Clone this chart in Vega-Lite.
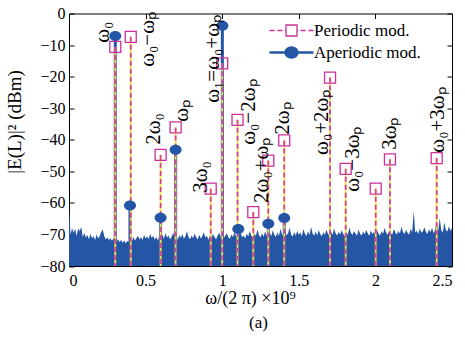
{
"$schema":"https://vega.github.io/schema/vega-lite/v6.json",
"width":383,"height":252.5,
"autosize":{"type":"none"},
"padding":{"left":69,"top":13.5,"right":13,"bottom":70.5},
"background":"white",
"title":{"text":"(a)","orient":"bottom","anchor":"middle","font":"Liberation Serif","fontSize":17,"fontWeight":"normal","color":"black","offset":8,"dx":-2},
"datasets":{
"noise":[
{"f":0,"p":-61.5},{"f":0.01,"p":-70},{"f":0.02,"p":-68},{"f":0.03,"p":-69.5},{"f":0.04,"p":-68.2},{"f":0.05,"p":-70.5},{"f":0.06,"p":-68},{"f":0.07,"p":-69},{"f":0.08,"p":-67.6},{"f":0.09,"p":-70.8},
{"f":0.1,"p":-69.5},{"f":0.11,"p":-71},{"f":0.12,"p":-70.2},{"f":0.13,"p":-71.5},{"f":0.14,"p":-69.8},{"f":0.15,"p":-71.2},{"f":0.16,"p":-70.5},{"f":0.17,"p":-71.8},{"f":0.18,"p":-70},{"f":0.19,"p":-71.3},
{"f":0.2,"p":-70.6},{"f":0.21,"p":-69.2},{"f":0.22,"p":-68.4},{"f":0.23,"p":-70.5},{"f":0.24,"p":-71.6},{"f":0.25,"p":-70.9},{"f":0.26,"p":-71.8},{"f":0.27,"p":-71.2},{"f":0.28,"p":-72},{"f":0.29,"p":-71.4},
{"f":0.3,"p":-70.8},{"f":0.31,"p":-72.2},{"f":0.32,"p":-71.5},{"f":0.33,"p":-72.4},{"f":0.34,"p":-71.8},{"f":0.35,"p":-72.6},{"f":0.36,"p":-71.9},{"f":0.37,"p":-72.8},{"f":0.38,"p":-72.1},{"f":0.39,"p":-72.5},
{"f":0.4,"p":-71.7},{"f":0.41,"p":-72.3},{"f":0.42,"p":-70.8},{"f":0.43,"p":-71.9},{"f":0.44,"p":-71.2},{"f":0.45,"p":-70.4},{"f":0.46,"p":-71.6},{"f":0.47,"p":-70.9},{"f":0.48,"p":-71.8},{"f":0.49,"p":-70.2},
{"f":0.5,"p":-71.3},{"f":0.51,"p":-70.6},{"f":0.52,"p":-71.5},{"f":0.53,"p":-69.8},{"f":0.54,"p":-71.1},{"f":0.55,"p":-70.4},{"f":0.56,"p":-71.7},{"f":0.57,"p":-70.8},{"f":0.58,"p":-71.9},{"f":0.59,"p":-70.5},
{"f":0.6,"p":-71.2},{"f":0.61,"p":-70.1},{"f":0.62,"p":-71.4},{"f":0.63,"p":-69.6},{"f":0.64,"p":-71},{"f":0.65,"p":-70.3},{"f":0.66,"p":-71.6},{"f":0.67,"p":-70.7},{"f":0.68,"p":-69.4},{"f":0.69,"p":-71.2},
{"f":0.7,"p":-70.5},{"f":0.71,"p":-71.8},{"f":0.72,"p":-70.2},{"f":0.73,"p":-71.1},{"f":0.74,"p":-69.9},{"f":0.75,"p":-71.4},{"f":0.76,"p":-70.6},{"f":0.77,"p":-68.9},{"f":0.78,"p":-70.8},{"f":0.79,"p":-71.5},
{"f":0.8,"p":-70.3},{"f":0.81,"p":-71.2},{"f":0.82,"p":-69.7},{"f":0.83,"p":-70.9},{"f":0.84,"p":-71.6},{"f":0.85,"p":-70.1},{"f":0.86,"p":-71.3},{"f":0.87,"p":-70.5},{"f":0.88,"p":-69.3},{"f":0.89,"p":-71},
{"f":0.9,"p":-70.4},{"f":0.91,"p":-71.7},{"f":0.92,"p":-70.2},{"f":0.93,"p":-71.1},{"f":0.94,"p":-69.8},{"f":0.95,"p":-70.9},{"f":0.96,"p":-71.5},{"f":0.97,"p":-70.3},{"f":0.98,"p":-69.5},{"f":0.99,"p":-70.8},
{"f":1.0,"p":-70.1},{"f":1.01,"p":-71.2},{"f":1.02,"p":-70.4},{"f":1.03,"p":-69.6},{"f":1.04,"p":-70.9},{"f":1.05,"p":-71.4},{"f":1.06,"p":-70},{"f":1.07,"p":-70.8},{"f":1.08,"p":-69.2},{"f":1.09,"p":-70.6},
{"f":1.1,"p":-71.1},{"f":1.11,"p":-70.2},{"f":1.12,"p":-69.5},{"f":1.13,"p":-70.9},{"f":1.14,"p":-70.3},{"f":1.15,"p":-71.3},{"f":1.16,"p":-69.8},{"f":1.17,"p":-70.6},{"f":1.18,"p":-68.9},{"f":1.19,"p":-70.4},
{"f":1.2,"p":-71},{"f":1.21,"p":-69.7},{"f":1.22,"p":-70.5},{"f":1.23,"p":-68.4},{"f":1.24,"p":-70.2},{"f":1.25,"p":-71},{"f":1.26,"p":-69.6},{"f":1.27,"p":-70.7},{"f":1.28,"p":-69.1},{"f":1.29,"p":-70.3},
{"f":1.3,"p":-70.9},{"f":1.31,"p":-69.4},{"f":1.32,"p":-70.6},{"f":1.33,"p":-68.7},{"f":1.34,"p":-70.1},{"f":1.35,"p":-70.8},{"f":1.36,"p":-69.3},{"f":1.37,"p":-70.5},{"f":1.38,"p":-68.2},{"f":1.39,"p":-69.9},
{"f":1.4,"p":-70.6},{"f":1.41,"p":-69.1},{"f":1.42,"p":-70.3},{"f":1.43,"p":-69.6},{"f":1.44,"p":-67.9},{"f":1.45,"p":-70},{"f":1.46,"p":-70.7},{"f":1.47,"p":-69.2},{"f":1.48,"p":-70.4},{"f":1.49,"p":-68.8},
{"f":1.5,"p":-70.1},{"f":1.51,"p":-69.4},{"f":1.52,"p":-70.6},{"f":1.53,"p":-68.3},{"f":1.54,"p":-69.8},{"f":1.55,"p":-70.5},{"f":1.56,"p":-69},{"f":1.57,"p":-70.2},{"f":1.58,"p":-67.6},{"f":1.59,"p":-69.7},
{"f":1.6,"p":-70.4},{"f":1.61,"p":-69.1},{"f":1.62,"p":-70.3},{"f":1.63,"p":-68.6},{"f":1.64,"p":-69.9},{"f":1.65,"p":-70.6},{"f":1.66,"p":-69.3},{"f":1.67,"p":-70.1},{"f":1.68,"p":-68.5},{"f":1.69,"p":-69.8},
{"f":1.7,"p":-70.4},{"f":1.71,"p":-69},{"f":1.72,"p":-70.2},{"f":1.73,"p":-68.1},{"f":1.74,"p":-69.6},{"f":1.75,"p":-70.3},{"f":1.76,"p":-69.2},{"f":1.77,"p":-70},{"f":1.78,"p":-68.7},{"f":1.79,"p":-69.9},
{"f":1.8,"p":-70.5},{"f":1.81,"p":-69.3},{"f":1.82,"p":-70.1},{"f":1.83,"p":-67.8},{"f":1.84,"p":-69.5},{"f":1.85,"p":-70.2},{"f":1.86,"p":-68.9},{"f":1.87,"p":-69.7},{"f":1.88,"p":-70.4},{"f":1.89,"p":-68.4},
{"f":1.9,"p":-69.8},{"f":1.91,"p":-70.3},{"f":1.92,"p":-69.1},{"f":1.93,"p":-70},{"f":1.94,"p":-68.6},{"f":1.95,"p":-69.6},{"f":1.96,"p":-70.4},{"f":1.97,"p":-68.8},{"f":1.98,"p":-69.9},{"f":1.99,"p":-69.2},
{"f":2.0,"p":-70.1},{"f":2.01,"p":-68.5},{"f":2.02,"p":-69.7},{"f":2.03,"p":-70.3},{"f":2.04,"p":-69},{"f":2.05,"p":-69.8},{"f":2.06,"p":-67.9},{"f":2.07,"p":-69.5},{"f":2.08,"p":-70.2},{"f":2.09,"p":-68.7},
{"f":2.1,"p":-69.6},{"f":2.11,"p":-70.1},{"f":2.12,"p":-68.3},{"f":2.13,"p":-69.4},{"f":2.14,"p":-70},{"f":2.15,"p":-68.9},{"f":2.16,"p":-69.7},{"f":2.17,"p":-67.5},{"f":2.18,"p":-69.2},{"f":2.19,"p":-69.9},
{"f":2.2,"p":-68.6},{"f":2.21,"p":-69.5},{"f":2.22,"p":-70.1},{"f":2.23,"p":-68.2},{"f":2.24,"p":-69.3},{"f":2.25,"p":-62.5},{"f":2.26,"p":-69.4},{"f":2.27,"p":-68.8},{"f":2.28,"p":-69.9},{"f":2.29,"p":-68.1},
{"f":2.3,"p":-69.5},{"f":2.31,"p":-69},{"f":2.32,"p":-67.7},{"f":2.33,"p":-69.3},{"f":2.34,"p":-69.8},{"f":2.35,"p":-68.4},{"f":2.36,"p":-69.2},{"f":2.37,"p":-67.9},{"f":2.38,"p":-69.6},{"f":2.39,"p":-68.5},
{"f":2.4,"p":-65.8},{"f":2.41,"p":-68.9},{"f":2.42,"p":-64.8},{"f":2.43,"p":-68.7},{"f":2.44,"p":-69.4},{"f":2.45,"p":-66.2},{"f":2.46,"p":-68.6},{"f":2.47,"p":-69.1},{"f":2.48,"p":-67.4},{"f":2.49,"p":-68.8},
{"f":2.5,"p":-68}
],
"periodic":[
{"f":0.302,"p":-10.6},{"f":0.403,"p":-7.4},{"f":0.598,"p":-44.8},{"f":0.696,"p":-36.1},{"f":0.925,"p":-55.5},{"f":1.0,"p":-15.8},{"f":1.1,"p":-33.7},{"f":1.203,"p":-62.9},{"f":1.301,"p":-46.6},{"f":1.405,"p":-40.2},{"f":1.704,"p":-20.3},{"f":1.806,"p":-49.2},{"f":2.002,"p":-55.5},{"f":2.095,"p":-46.2},{"f":2.4,"p":-45.8}
],
"aperiodic":[
{"f":0.302,"p":-7.1,"s":"Aperiodic mod."},{"f":0.398,"p":-60.8,"s":"Aperiodic mod."},{"f":0.598,"p":-64.7,"s":"Aperiodic mod."},{"f":0.696,"p":-43.2,"s":"Aperiodic mod."},{"f":1.001,"p":-3.9,"s":"Aperiodic mod."},{"f":1.105,"p":-68.3,"s":"Aperiodic mod."},{"f":1.301,"p":-66.6,"s":"Aperiodic mod."},{"f":1.405,"p":-64.8,"s":"Aperiodic mod."}
],
"labels":[
{"f":0.222,"b":-9.3,"t":"ω₀"},{"f":0.516,"b":-16.9,"t":"ω₀−ωₚ"},{"f":0.555,"b":-41.6,"t":"2ω₀"},{"f":0.738,"b":-34.3,"t":"ωₚ"},{"f":0.862,"b":-56.8,"t":"3ω₀"},{"f":0.94,"b":-28.3,"t":"ω₁=ω₀+ωₚ"},{"f":1.175,"b":-41.6,"t":"ω₀−2ωₚ"},{"f":1.26,"b":-60,"t":"2ω₀+ωₚ"},{"f":1.397,"b":-38.4,"t":"2ωₚ"},{"f":1.651,"b":-44.8,"t":"ω₀+2ωₚ"},{"f":1.854,"b":-56.5,"t":"ω₀−3ωₚ"},{"f":2.095,"b":-43.2,"t":"3ωₚ"},{"f":2.409,"b":-44.1,"t":"ω₀+3ωₚ"}
]
},
"layer":[
{"data":{"name":"noise"},"mark":{"type":"area","color":"#2456a5","interpolate":"linear","clip":true},
"encoding":{
"x":{"field":"f","type":"quantitative","scale":{"domain":[0,2.5],"nice":false,"zero":false},"axis":{"orient":"bottom","values":[0,0.5,1,1.5,2,2.5],"format":"~g","title":"ω/(2 π)  ×10⁹","titleFont":"Liberation Serif","titleFontSize":18,"titleX":181,"titleY":37,"titleBaseline":"alphabetic","titleAlign":"center","labelFont":"Liberation Serif","labelFontSize":16,"labelPadding":11}},
"y":{"field":"p","type":"quantitative","scale":{"domain":[-80,0],"nice":false,"zero":false},"axis":{"orient":"left","values":[-80,-70,-60,-50,-40,-30,-20,-10,0],"title":"|E(L)|² (dBm)","titleFont":"Liberation Serif","titleFontSize":19,"titleX":-45,"titleY":108,"titleBaseline":"bottom","titleAngle":270,"titleAlign":"center","labelFont":"Liberation Serif","labelFontSize":16,"labelPadding":9}},
"y2":{"datum":-80}}},
{"data":{"name":"aperiodic"},"mark":{"type":"rule","strokeWidth":3},
"encoding":{
"x":{"field":"f","type":"quantitative","axis":{"orient":"top","values":[0,0.5,1,1.5,2,2.5],"labels":false,"title":null}},
"y":{"field":"p","type":"quantitative","axis":{"orient":"right","values":[-80,-70,-60,-50,-40,-30,-20,-10,0],"labels":false,"title":null}},
"y2":{"datum":-80},
"color":{"field":"s","type":"nominal","scale":{"domain":["Periodic mod.","Aperiodic mod."],"range":["#cc2e9c","#2456a5"]},
"legend":{"title":null,"orient":"none","legendX":214,"legendY":8.5,"padding":0,"labelFont":"Liberation Serif","labelFontSize":17,"labelColor":"black","labelOffset":14,"rowPadding":3,"symbolSize":100,
"encode":{"symbols":{"update":{
"shape":{"signal":"datum.value === 'Periodic mod.' ? 'M-4.4,0H-3.4M-2.8,0H-1.8M-1.3,0H-1.1M1.1,0H1.3M1.8,0H2.8M3.4,0H4.4M-1.1,-1.1H1.1V1.1H-1.1Z' : 'M-4.4,0H4.4M-1.2,0A1.2,1,0,1,0,1.2,0A1.2,1,0,1,0,-1.2,0Z'"},
"fill":{"signal":"datum.value === 'Periodic mod.' ? 'transparent' : '#2456a5'"},
"stroke":{"signal":"datum.value === 'Periodic mod.' ? '#cc2e9c' : '#2456a5'"},
"strokeWidth":{"signal":"datum.value === 'Periodic mod.' ? 1.3 : 2.5"},
"size":{"value":100},"opacity":{"value":1}}}}}}}},
{"data":{"name":"periodic"},"mark":{"type":"rule","color":"#eeea4a","strokeWidth":1.8},
"encoding":{"x":{"field":"f","type":"quantitative","axis":null},"y":{"field":"p","type":"quantitative","axis":null},"y2":{"datum":-80}}},
{"data":{"name":"periodic"},"mark":{"type":"rule","color":"#d9418c","strokeWidth":1.8,"strokeDash":[5,3]},
"encoding":{"x":{"field":"f","type":"quantitative","axis":null},"y":{"field":"p","type":"quantitative","axis":null},"y2":{"datum":-80}}},
{"data":{"name":"periodic"},"mark":{"type":"point","shape":"square","filled":false,"size":121,"color":"#cc2e9c","strokeWidth":1.3,"opacity":1},
"encoding":{"x":{"field":"f","type":"quantitative","axis":null},"y":{"field":"p","type":"quantitative","axis":null}}},
{"data":{"name":"aperiodic"},"mark":{"type":"point","shape":"M-1.2,0A1.2,1,0,1,0,1.2,0A1.2,1,0,1,0,-1.2,0Z","filled":true,"size":100,"color":"#2456a5","opacity":1,"strokeWidth":0},
"encoding":{"x":{"field":"f","type":"quantitative","axis":null},"y":{"field":"p","type":"quantitative","axis":null}}},
{"data":{"name":"labels"},"mark":{"type":"text","angle":270,"align":"left","baseline":"middle","font":"Liberation Serif","fontSize":21,"color":"black"},
"encoding":{"x":{"field":"f","type":"quantitative","axis":null},"y":{"field":"b","type":"quantitative","axis":null},"text":{"field":"t"}}}
],
"resolve":{"axis":{"x":"independent","y":"independent"}},
"config":{"view":{"stroke":null},"axis":{"grid":false,"domainColor":"black","domainWidth":1,"tickColor":"black","tickWidth":1,"tickSize":-5,"labelFont":"Liberation Serif","labelFontSize":16,"labelColor":"black","titleFont":"Liberation Serif","titleFontWeight":"normal","titleColor":"black"}}
}
